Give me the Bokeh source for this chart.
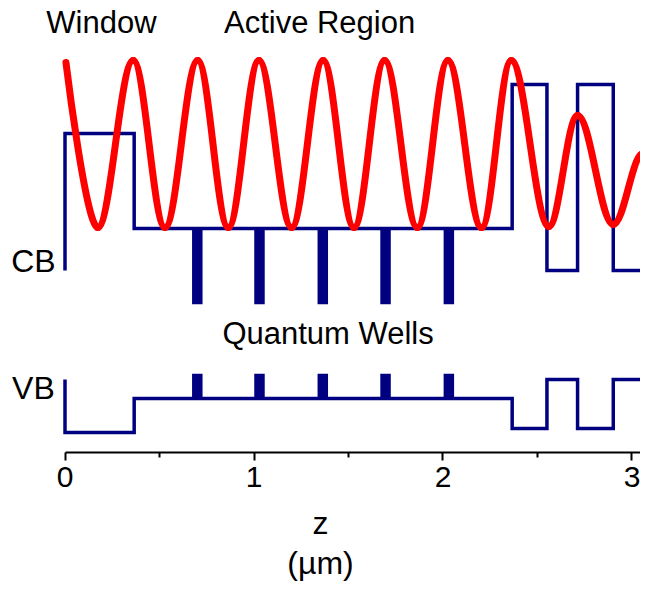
from bokeh.plotting import figure
from bokeh.models import Range1d, FixedTicker, ColumnDataSource, LinearAxis
from bokeh.core.properties import value
from bokeh.embed import file_html
from bokeh.resources import INLINE

# ---------------- data ----------------
# layer boundaries along growth direction z (µm)
window_bounds = [0.0, 0.366]
active_bounds = [0.366, 2.366]
qw_centers = [0.700, 1.029, 1.364, 1.696, 2.031]
qw_well_width = 0.015
qw_barrier_width = 0.007
qw_per_group = 2
dbr_bounds = [2.366, 2.550, 2.712, 2.901, 3.058, 3.220]
dbr_layers = ["dbr_hi", "dbr_lo", "dbr_hi", "dbr_lo", "dbr_hi"]

# band-edge levels (arbitrary energy units)
cb_levels = {"cap": 1.90, "window": 3.27, "barrier": 2.32, "well": 1.58,
             "dbr_hi": 3.76, "dbr_lo": 1.90}
vb_levels = {"cap": 0.81, "window": 0.28, "barrier": 0.62, "well": 0.85,
             "dbr_hi": 0.32, "dbr_lo": 0.81}

# optical standing wave: start point, then successive troughs / crests (z in µm)
field_z = [0.005, 0.173, 0.361, 0.529, 0.702, 0.864, 1.026, 1.199, 1.366, 1.529,
           1.691, 1.864, 2.026, 2.204, 2.361, 2.560, 2.712, 2.901, 3.058]
field_val = [3.98, 2.33, 4.00, 2.33, 4.00, 2.33, 4.00, 2.33, 4.00, 2.33,
             4.00, 2.33, 4.00, 2.33, 4.00, 2.34, 3.45, 2.36, 3.07]

x_ticks = [0, 1, 2, 3]
x_minor_ticks = [0.5, 1.5, 2.5]
region_labels = ["Window", "Active Region", "Quantum Wells", "CB", "VB"]
axis_title = ["z", "(µm)"]

# ---------------- layer structure -> step profiles ----------------
segments = [(window_bounds[0], window_bounds[0], "cap"),
            (window_bounds[0], window_bounds[1], "window")]
z = active_bounds[0]
group = qw_per_group * qw_well_width + (qw_per_group - 1) * qw_barrier_width
for c in qw_centers:
    s = c - group / 2
    segments.append((z, s, "barrier"))
    for k in range(qw_per_group):
        w0 = s + k * (qw_well_width + qw_barrier_width)
        segments.append((w0, w0 + qw_well_width, "well"))
        if k < qw_per_group - 1:
            segments.append((w0 + qw_well_width, w0 + qw_well_width + qw_barrier_width, "barrier"))
    z = s + group
segments.append((z, active_bounds[1], "barrier"))
for i, kind in enumerate(dbr_layers):
    segments.append((dbr_bounds[i], dbr_bounds[i + 1], kind))


def profile(levels):
    xs, ys = [], []
    for z0, z1, kind in segments:
        xs += [z0, z1]
        ys += [levels[kind], levels[kind]]
    return xs, ys


cb_x, cb_y = profile(cb_levels)
vb_x, vb_y = profile(vb_levels)

# standing wave drawn as smooth half-cycles between the read extrema
K = 0.3642
x0, x1 = field_z[:-1], field_z[1:]
y0, y1 = field_val[:-1], field_val[1:]
cx0 = [a + K * (b - a) for a, b in zip(x0, x1)]
cx1 = [b - K * (b - a) for a, b in zip(x0, x1)]
cy0, cy1 = list(y0), list(y1)
cx0[0], cy0[0] = x0[0], y0[0]      # curve starts on a falling flank
wave = ColumnDataSource(dict(x0=x0, y0=y0, x1=x1, y1=y1,
                             cx0=cx0, cy0=cy0, cx1=cx1, cy1=cy1))

# ---------------- figure ----------------
FONT = "Liberation Sans"
p = figure(width=640, height=590,
           x_range=Range1d(-0.3413, 3.0450), y_range=Range1d(0.08, 4.60),
           output_backend="svg", toolbar_location=None, y_axis_location=None,
           min_border_left=0, min_border_right=0, min_border_top=0,
           min_border_bottom=138)
p.grid.visible = False
p.outline_line_color = None
p.background_fill_color = "white"
p.border_fill_color = "white"

navy = "#000080"
p.line(cb_x, cb_y, line_color=navy, line_width=3.5, line_join="miter")
p.line(vb_x, vb_y, line_color=navy, line_width=3.5, line_join="miter")
p.bezier(x0="x0", y0="y0", x1="x1", y1="y1", cx0="cx0", cy0="cy0",
         cx1="cx1", cy1="cy1", source=wave, line_color="#FF0000",
         line_width=7, line_cap="round")

lab_src = ColumnDataSource(dict(
    x=[0.193, 1.347, 1.392, -0.167, -0.167],
    y=[4.38, 4.38, 1.27, 2.00, 0.73],
    text=region_labels,
    size=["31px", "31px", "31px", "32px", "32px"]))
p.text(x="x", y="y", text="text", source=lab_src,
       text_font=value(FONT), text_font_size="size", text_color="black",
       text_align="center", text_baseline="middle")

ax = p.xaxis[0]
ax.ticker = FixedTicker(ticks=x_ticks, minor_ticks=x_minor_ticks)
ax.bounds = (0, 3.2)
ax.axis_line_width = 2
ax.axis_line_color = "black"
ax.major_tick_line_width = 2
ax.minor_tick_line_width = 2
ax.major_tick_out = 8
ax.major_tick_in = 0
ax.minor_tick_out = 5
ax.minor_tick_in = 0
ax.major_label_text_font = FONT
ax.major_label_text_font_size = "30px"
ax.major_label_text_color = "black"
ax.major_label_standoff = 6


def title_axis(text, standoff):
    a = LinearAxis(ticker=FixedTicker(ticks=[]), axis_label=text, bounds=(0, 2.54),
                   axis_line_color=None, major_tick_line_color=None,
                   minor_tick_line_color=None, major_tick_out=0, major_tick_in=0,
                   minor_tick_out=0, minor_tick_in=0,
                   major_label_text_font_size="0px", major_label_standoff=0,
                   axis_label_standoff=standoff, axis_label_text_font=FONT,
                   axis_label_text_font_size="32px",
                   axis_label_text_font_style="normal",
                   axis_label_text_color="black")
    p.add_layout(a, "below")


title_axis(axis_title[0], 15)
title_axis(axis_title[1], 1)

open("out.html", "w").write(file_html(p, INLINE))
